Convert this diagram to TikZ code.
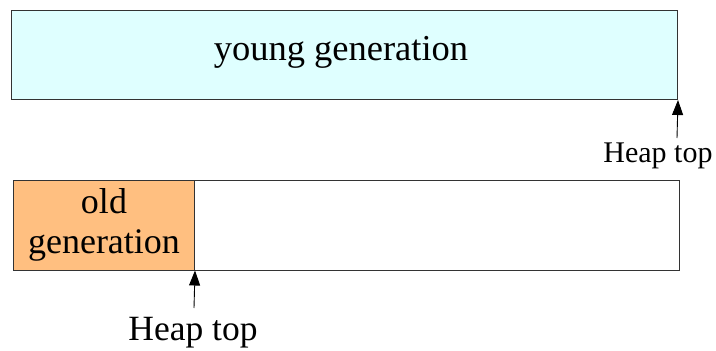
\documentclass[tikz,border=0pt]{standalone}
\usepackage{fontspec}
\setmainfont{Liberation Serif}
\usetikzlibrary{arrows.meta}
\definecolor{youngfill}{HTML}{DFFFFF}
\definecolor{oldfill}{HTML}{FFBF80}
\definecolor{edge}{HTML}{333333}
\tikzset{
  region/.style={draw=edge, line width=1pt, inner sep=0pt, anchor=north west},
  pointer/.style={-{Triangle[length=15pt,width=11pt]}, line width=0.9pt, black},
  lbl/.style={inner sep=0pt, font=\fontsize{30}{34}\selectfont},
}
\begin{document}
\begin{tikzpicture}[x=1pt,y=-1pt]
\useasboundingbox (0,0) rectangle (716,351);
\node[region, fill=youngfill, minimum width=666pt, minimum height=89pt] (young) at (11,10) {};
\node[inner sep=0pt, font=\fontsize{36.5}{40}\selectfont] (youngtxt) at (341,52) {young generation};
\node[region, fill=white, minimum width=666pt, minimum height=90pt] (heap) at (13,179.5) {};
\node[region, fill=oldfill, minimum width=181pt, minimum height=90pt, align=center, font=\fontsize{36}{40}\selectfont] (old) at (13,179.5) {old\\generation};
\node[lbl, anchor=base] (top1) at (658,162) {Heap top};
\node[inner sep=0pt, anchor=base, font=\fontsize{35.5}{40}\selectfont] (top2) at (193,340) {Heap top};
\coordinate (t1) at (677,138);
\coordinate (t2) at (194,308);
\draw[pointer] (t1) -- (young.south east);
\draw[pointer] (t2) -- (old.south east);
\end{tikzpicture}
\end{document}
